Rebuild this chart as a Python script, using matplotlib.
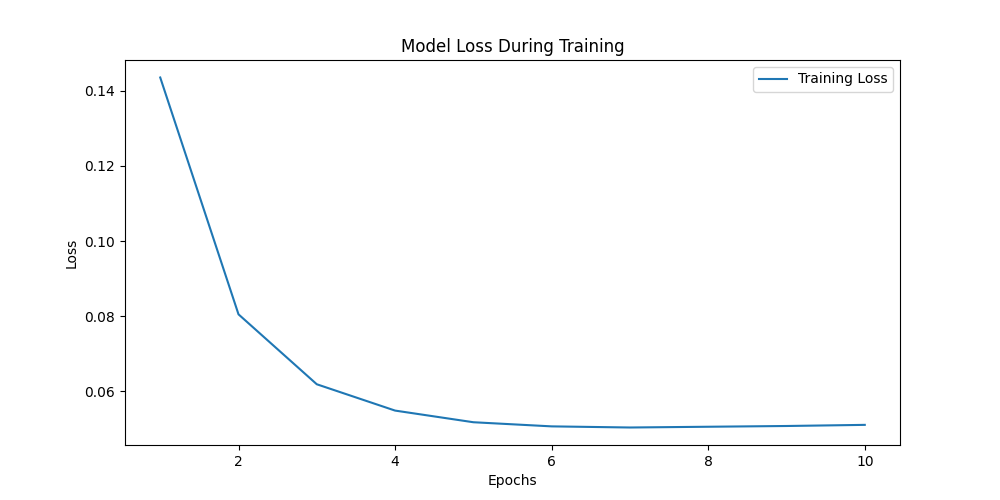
import matplotlib
matplotlib.use("Agg")
import matplotlib.pyplot as plt

epochs = [1, 2, 3, 4, 5, 6, 7, 8, 9, 10]
train_loss = [0.1435, 0.0805, 0.0619, 0.0549, 0.0518, 0.0507, 0.0504, 0.0506, 0.0508, 0.0511]

fig, ax = plt.subplots(figsize=(10, 5), dpi=100)
ax.plot(epochs, train_loss, label="Training Loss")
ax.set_title("Model Loss During Training")
ax.set_xlabel("Epochs")
ax.set_ylabel("Loss")
ax.legend()
fig.savefig("out.png")
